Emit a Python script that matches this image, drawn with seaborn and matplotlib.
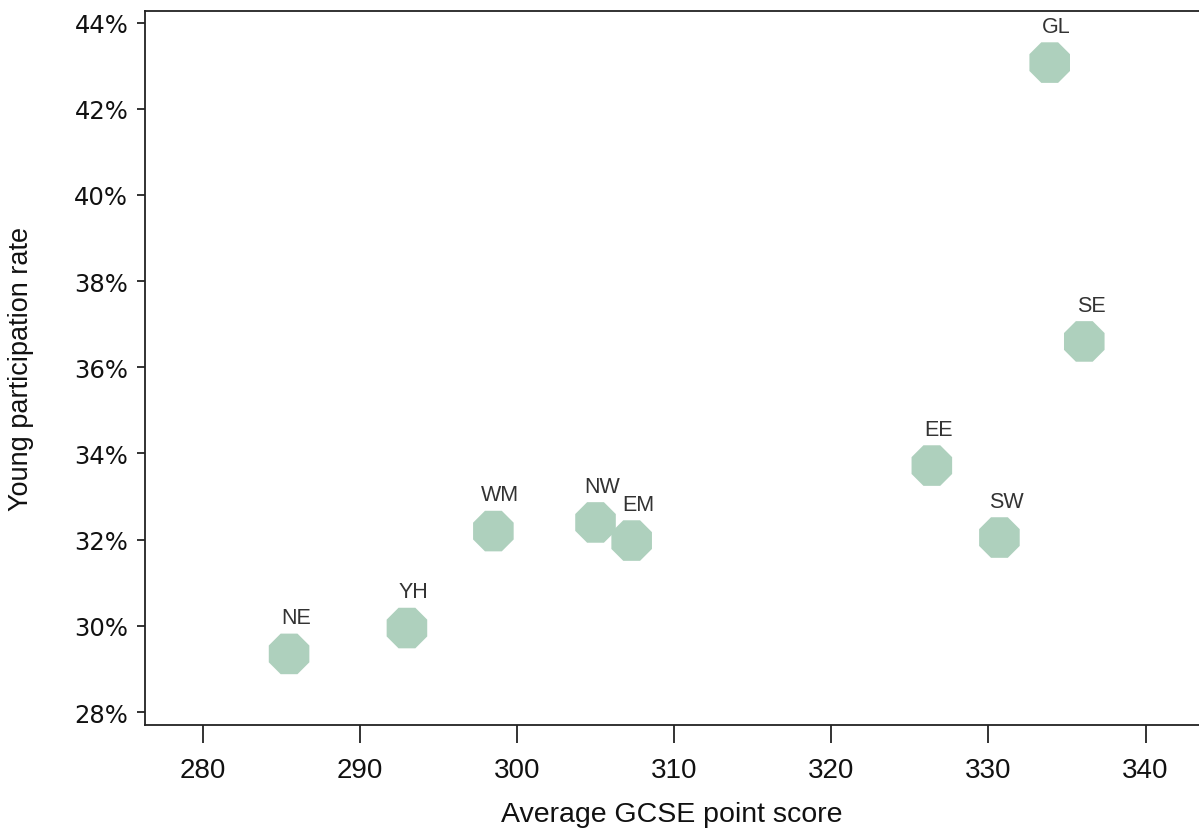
# Scatter of young participation rate vs average GCSE point score by region
import matplotlib
matplotlib.use("Agg")
import matplotlib.pyplot as plt
import seaborn as sns
from matplotlib.ticker import FuncFormatter

# ---- data ----
regions = ["NE", "YH", "WM", "NW", "EM", "EE", "SW", "GL", "SE"]
gcse_score = [285.5, 293.0, 298.5, 305.0, 307.3, 326.4, 330.7, 333.9, 336.1]
participation = [29.35, 29.95, 32.2, 32.4, 31.98, 33.72, 32.05, 43.07, 36.6]

sns.set_style("white")
plt.rcParams["font.family"] = ["Liberation Sans", "DejaVu Sans"]

fig = plt.figure(figsize=(11.99, 8.37), dpi=100)
ax = fig.add_axes([0.1209, 0.1326, 0.8791, 0.8527])

sns.scatterplot(x=gcse_score, y=participation, ax=ax, marker="8", s=1000,
                color="#aed0bd", edgecolor="none", linewidth=0, legend=False)

# region codes just above each point
for name, gx, py in zip(regions, gcse_score, participation):
    ax.annotate(name, (gx, py), xytext=(5, 26), textcoords="offset points",
                ha="center", va="center", fontsize=15.5, color="#333333")

ax.set_xlim(276.33, 343.4)
ax.set_ylim(27.7, 44.26)
ax.set_xticks(range(280, 341, 10))
ax.set_yticks(range(28, 45, 2))
ax.yaxis.set_major_formatter(FuncFormatter(lambda v, p: f"{v:.0f}%"))

# white style switches the ticks off, turn them back on
ax.tick_params(axis="x", bottom=True, direction="out", length=13, width=1.2,
               pad=10, labelsize=20, colors="#111111")
ax.tick_params(axis="y", left=True, direction="out", length=6, width=1.2,
               pad=6, labelsize=17.5, colors="#111111")
for lab in ax.get_yticklabels():
    lab.set_family("DejaVu Sans")

for side in ["left", "bottom", "top"]:
    ax.spines[side].set_color("#222222")
    ax.spines[side].set_linewidth(1.3)
ax.spines["right"].set_visible(False)

ax.set_xlabel("Average GCSE point score", fontsize=20.5, color="#111111")
ax.set_ylabel("Young participation rate", fontsize=19.5, color="#111111")
ax.xaxis.set_label_coords(0.5, -0.106)
ax.yaxis.set_label_coords(-0.105, 0.5)

plt.savefig("out.png", dpi=100)
plt.close()
